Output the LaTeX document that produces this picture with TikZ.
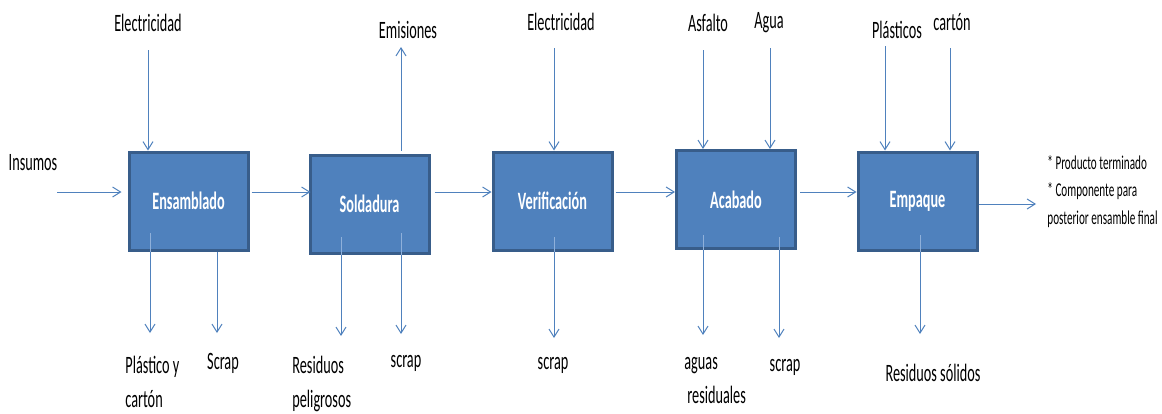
\documentclass[tikz,border=0pt]{standalone}
\usepackage{fontspec}
\setmainfont{Carlito}[FakeStretch=0.57]
\usetikzlibrary{arrows.meta}
\definecolor{boxfill}{HTML}{4F81BD}
\definecolor{boxline}{HTML}{385D8A}
\definecolor{flowc}{HTML}{4F81BD}
\definecolor{flowin}{HTML}{8FB0DA}
\begin{document}
\begin{tikzpicture}[x=0.5pt,y=-0.5pt,
  procbox/.style={draw=boxline,line width=1.5pt,fill=boxfill,minimum width=59.5pt,minimum height=49pt,inner sep=0pt,
    text=white,font=\fontsize{12.5}{14}\selectfont\bfseries},
  lbl/.style={inner sep=0pt,font=\fontsize{12.5}{16.8}\selectfont,text=black},
  lbl2/.style={lbl,align=left},
  outlbl/.style={inner sep=0pt,align=left,font=\fontsize{9.8}{13.75}\selectfont},
  flow/.style={draw=flowc,line width=0.5pt,-{Straight Barb[length=4pt,width=5pt]}},
  flowi/.style={draw=flowin,line width=0.5pt}]
\useasboundingbox (0,0) rectangle (1162,413);
% process boxes
\node[procbox] (e1) at (188.5,201) {Ensamblado};
\node[procbox] (e2) at (369.5,204) {Soldadura};
\node[procbox] (e3) at (552.5,201) {Verificación};
\node[procbox] (e4) at (736,199.5) {Acabado};
\node[procbox] (e5) at (917.5,201) {Empaque};
% main flow
\node[lbl] (ins) at (33,163) {Insumos};
\coordinate (insS) at (57,192);
\draw[flow,shorten >=3pt] (insS) -- (insS -| e1.west);
\draw[flow] ([yshift=4.5pt,xshift=1pt]e1.east) -- ([yshift=4.5pt,xshift=1pt]e1.east -| e2.west);
\draw[flow] ([yshift=6pt,xshift=2pt]e2.east) -- ([yshift=6pt]e2.east -| e3.west);
\draw[flow] ([yshift=4.5pt,xshift=1pt]e3.east) -- ([yshift=4.5pt]e3.east -| e4.west);
\draw[flow] ([yshift=3.75pt,xshift=1.5pt]e4.east) -- ([yshift=3.75pt]e4.east -| e5.west);
\coordinate (outE) at (1036,204);
\draw[flow] (outE -| e5.east) -- (outE);
\node[outlbl,anchor=north west] (out) at (1047,155) {* Producto terminado\\* Componente para\\posterior ensamble final};
% top inputs / outputs
\node[lbl] (el1) at (148,23) {Electricidad};
\coordinate (a1) at (148,50);
\draw[flow] (a1) -- (a1 |- e1.north);
\node[lbl] (emi) at (408,30) {Emisiones};
\coordinate (a2) at (401,47);
\draw[flow] (a2 |- e2.north) ++(0,-3) -- (a2);
\node[lbl] (el2) at (561,22) {Electricidad};
\coordinate (a3) at (554,48);
\draw[flow] (a3) -- (a3 |- e3.north);
\node[lbl] (asf) at (708,23) {Asfalto};
\coordinate (a4) at (703,50);
\draw[flow] (a4) -- (a4 |- e4.north);
\node[lbl] (agu) at (769,23) {Agua};
\coordinate (a5) at (770,48);
\draw[flow] (a5) -- (a5 |- e4.north);
\node[lbl] (pla) at (897,30) {Plásticos};
\coordinate (a6) at (885,46);
\draw[flow] (a6) -- (a6 |- e5.north);
\node[lbl] (car) at (952,22) {cartón};
\coordinate (a7) at (950,48);
\draw[flow] (a7) -- (a7 |- e5.north);
% bottom outputs
\coordinate (b1) at (150,333);
\draw[flowi] (150,233) -- (b1 |- e1.south);
\draw[flow] (b1 |- e1.south) -- (b1);
\coordinate (b2) at (217,333);
\draw[flow] (b2 |- e1.south) -- (b2);
\node[lbl2,anchor=north west] (pc) at (125,356) {Plástico y\\cartón};
\node[lbl] (sc1) at (223,363) {Scrap};
\coordinate (b3) at (341,336);
\draw[flowi] (341,237) -- (b3 |- e2.south);
\draw[flow] (b3 |- e2.south) -- (b3);
\coordinate (b4) at (401,334);
\draw[flowi] (401,233) -- (b4 |- e2.south);
\draw[flow] (b4 |- e2.south) -- (b4);
\node[lbl2,anchor=north west] (rp) at (292,356) {Residuos\\peligrosos};
\node[lbl] (sc2) at (406,363) {scrap};
\coordinate (b5) at (554,338);
\draw[flowi] (554,237) -- (b5 |- e3.south);
\draw[flow] (b5 |- e3.south) -- (b5);
\node[lbl] (sc3) at (553,365) {scrap};
\coordinate (b6) at (703,335);
\draw[flowi] (703,235) -- (b6 |- e4.south);
\draw[flow] (b6 |- e4.south) -- (b6);
\coordinate (b7) at (779,338);
\draw[flowi] (779,237) -- (b7 |- e4.south);
\draw[flow] (b7 |- e4.south) -- (b7);
\node[lbl2,anchor=north west] (ar) at (684,357) {aguas\\\hspace*{1.5pt}residuales};
\node[lbl] (sc4) at (785,367) {scrap};
\coordinate (b8) at (920,334);
\draw[flowi] (920,235) -- (b8 |- e5.south);
\draw[flow] (b8 |- e5.south) -- (b8);
\node[lbl] (rs) at (933,373) {Residuos sólidos};
\end{tikzpicture}
\end{document}
